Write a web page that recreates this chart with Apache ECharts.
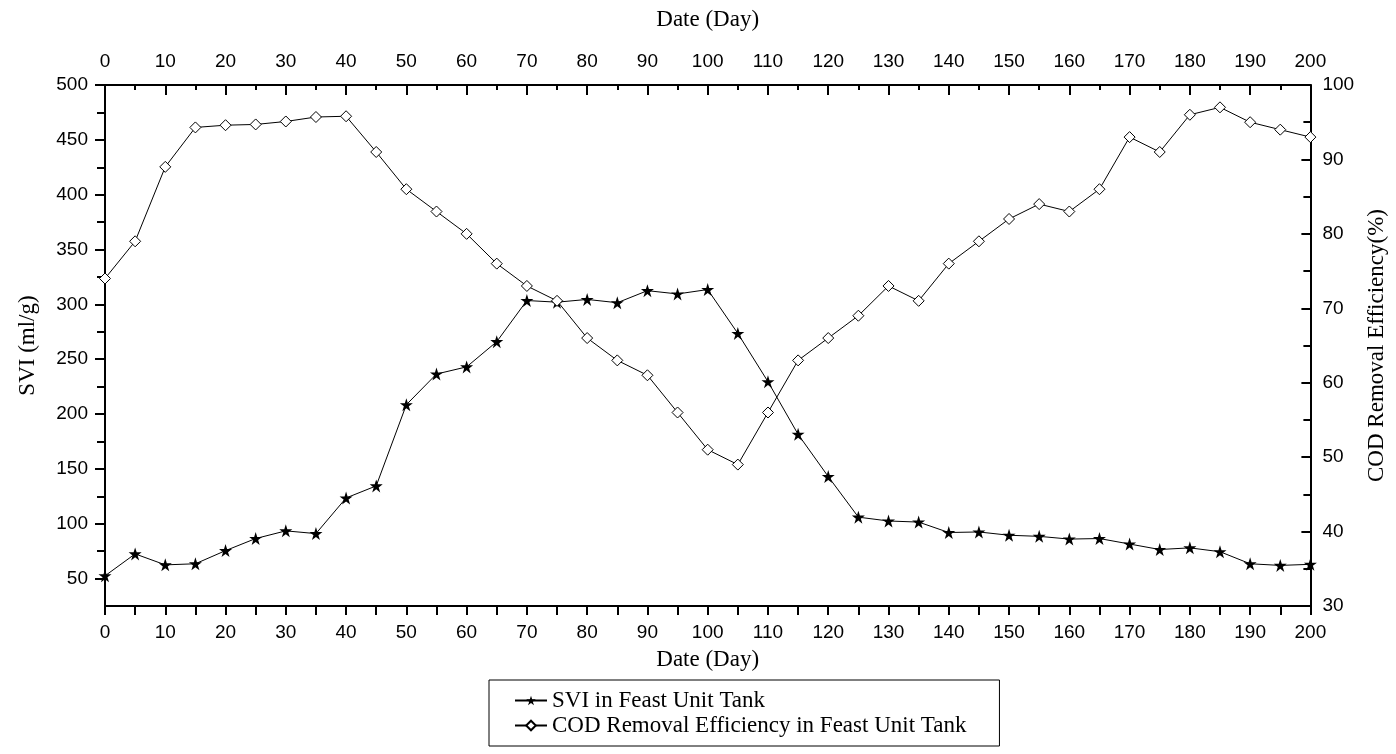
<!DOCTYPE html>
<html>
<head>
<meta charset="utf-8">
<script src="https://cdn.jsdelivr.net/npm/echarts@6/dist/echarts.min.js"></script>
<style>
  html, body { margin: 0; padding: 0; background: #fff; }
  #chart { width: 1396px; height: 754px; }
</style>
</head>
<body>
<div id="chart"></div>
<script>
// Sampling days (every 5 days over the 200-day run)
const days = [0, 5, 10, 15, 20, 25, 30, 35, 40, 45, 50, 55, 60, 65, 70, 75, 80, 85, 90, 95, 100,
              105, 110, 115, 120, 125, 130, 135, 140, 145, 150, 155, 160, 165, 170, 175, 180, 185, 190, 195, 200];

// Sludge volume index in the feast unit tank (ml/g)
const sviValues = [52.5, 72.5, 62.5, 63.5, 75.5, 86.5, 93.5, 91, 123.5, 134.5, 208.5,
                   236.5, 243, 266, 303.5, 302, 304.5, 301.5, 312.5, 309.5, 313.5,
                   273.5, 229.5, 181.5, 143, 106, 102.5, 101.5, 92, 92.5, 89.5,
                   88.5, 86, 86.5, 81.5, 76.5, 78, 74.5, 63.5, 62, 63];

// COD removal efficiency in the feast unit tank (%)
const codValues = [74, 79, 89, 94.3, 94.6, 94.7, 95.1, 95.7, 95.8, 91, 86,
                   83, 80, 76, 73, 71, 66, 63, 61, 56, 51,
                   49, 56, 63, 66, 69, 73, 71, 76, 79, 82,
                   84, 83, 86, 93, 91, 96, 97, 95, 94, 93];

// Tick positions of the SVI axis
const sviMajorTicks = [50, 100, 150, 200, 250, 300, 350, 400, 450, 500];
const sviMinorTicks = [75, 125, 175, 225, 275, 325, 375, 425, 475];

const seriesNames = ['SVI in Feast Unit Tank', 'COD Removal Efficiency in Feast Unit Tank'];

const SANS = 'Liberation Sans, Arial, sans-serif';
const SERIF = 'Liberation Serif, Times New Roman, serif';
const INK = '#000';

const starPath = 'path://M50,0 L61.2,34.5 L97.6,34.5 L68.2,55.9 L79.4,90.5 L50,69.1 L20.6,90.5 L31.8,55.9 L2.4,34.5 L38.8,34.5 Z';

const sviData = days.map((d, i) => [d, sviValues[i]]);
const codData = days.map((d, i) => [d, codValues[i]]);

const axisLine = { show: true, onZero: false, lineStyle: { color: INK, width: 2 } };
const tickLabel = { color: INK, fontFamily: SANS, fontSize: 19 };
const axisTitle = { color: INK, fontFamily: SERIF, fontSize: 23 };

const chart = echarts.init(document.getElementById('chart'), null, { renderer: 'canvas' });

chart.setOption({
  backgroundColor: '#fff',
  animation: false,
  grid: { left: 105, right: 80, top: 85, bottom: 148, containLabel: false },
  legend: {
    data: seriesNames,
    orient: 'vertical',
    left: 489,
    top: 680,
    itemWidth: 32,
    itemHeight: 12,
    itemGap: 2,
    padding: [9, 33, 9, 25],
    borderColor: INK,
    borderWidth: 1,
    borderRadius: 0,
    textStyle: { color: INK, fontFamily: SERIF, fontSize: 23 }
  },
  xAxis: [
    {
      type: 'value', position: 'bottom', min: 0, max: 200, interval: 10,
      name: 'Date (Day)', nameLocation: 'middle', nameGap: 42, nameTextStyle: axisTitle,
      axisLine: axisLine,
      axisTick: { show: true, inside: false, length: 9, lineStyle: { color: INK, width: 2 } },
      minorTick: { show: true, splitNumber: 2, length: 9, lineStyle: { color: INK, width: 2 } },
      axisLabel: Object.assign({ margin: 17 }, tickLabel),
      splitLine: { show: false }
    },
    {
      type: 'value', position: 'top', min: 0, max: 200, interval: 10,
      name: 'Date (Day)', nameLocation: 'middle', nameGap: 54, nameTextStyle: axisTitle,
      axisLine: axisLine,
      axisTick: { show: true, inside: true, length: 10, lineStyle: { color: INK, width: 2 } },
      minorTick: { show: true, splitNumber: 2, length: 5, lineStyle: { color: INK, width: 2 } },
      axisLabel: Object.assign({ margin: 14 }, tickLabel),
      splitLine: { show: false }
    }
  ],
  yAxis: [
    {
      type: 'value', position: 'left', min: 25, max: 500,
      name: 'SVI (ml/g)', nameLocation: 'middle', nameRotate: 90, nameGap: 66, nameTextStyle: axisTitle,
      axisLine: axisLine,
      axisTick: { show: true, inside: false, length: 10, customValues: sviMajorTicks, lineStyle: { color: INK, width: 2 } },
      axisLabel: Object.assign({ margin: 17, customValues: sviMajorTicks }, tickLabel),
      splitLine: { show: false }
    },
    {
      type: 'value', position: 'right', min: 30, max: 100, interval: 10,
      name: 'COD Removal Efficiency(%)', nameLocation: 'middle', nameRotate: 90, nameGap: 54, nameTextStyle: axisTitle,
      axisLine: axisLine,
      axisTick: { show: true, inside: true, length: 9, lineStyle: { color: INK, width: 2 } },
      minorTick: { show: true, splitNumber: 2, length: 7, lineStyle: { color: INK, width: 2 } },
      axisLabel: Object.assign({ margin: 12 }, tickLabel),
      splitLine: { show: false }
    },
    {
      // minor ticks of the SVI axis
      type: 'value', position: 'left', min: 25, max: 500,
      axisLine: { show: false },
      axisTick: { show: true, inside: false, length: 8, customValues: sviMinorTicks, lineStyle: { color: INK, width: 2 } },
      axisLabel: { show: false },
      splitLine: { show: false }
    }
  ],
  series: [
    {
      name: seriesNames[0], type: 'line', xAxisIndex: 0, yAxisIndex: 0,
      data: sviData,
      symbol: starPath, symbolSize: 13, showAllSymbol: true,
      itemStyle: { color: INK, borderWidth: 0 },
      lineStyle: { color: INK, width: 1 },
      z: 3
    },
    {
      name: seriesNames[1], type: 'line', xAxisIndex: 0, yAxisIndex: 1,
      data: codData,
      symbol: 'diamond', symbolSize: 11, showAllSymbol: true,
      itemStyle: { color: '#fff', borderColor: INK, borderWidth: 1 },
      lineStyle: { color: INK, width: 1 },
      z: 3
    }
  ]
});
</script>
</body>
</html>
